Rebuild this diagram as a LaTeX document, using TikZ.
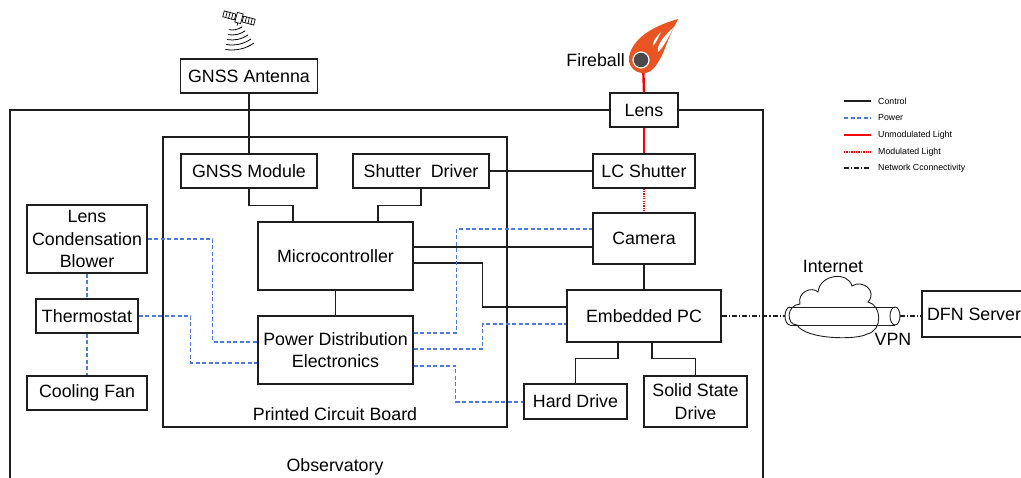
\documentclass[tikz,border=0pt]{standalone}
\usepackage{fontspec}
\setmainfont{Liberation Sans}
\usetikzlibrary{calc}
\definecolor{pwr}{RGB}{77,121,230}
\definecolor{fire}{RGB}{234,84,34}
\definecolor{ball}{RGB}{74,74,74}
\definecolor{ink}{RGB}{30,30,30}
\begin{document}
\begin{tikzpicture}[x=1pt,y=-1pt,
  every node/.style={font=\fontsize{17.8}{22.5}\selectfont},
  box/.style={draw=ink,fill=white,line width=1.1pt,align=center,inner sep=0pt},
  frame/.style={draw=ink,line width=1.1pt},
  ctrl/.style={ink,line width=1.1pt},
  power/.style={pwr,line width=1.1pt,dash pattern=on 4pt off 2.5pt},
  light/.style={red,line width=2.4pt},
  modlight/.style={red,line width=2.4pt,dash pattern=on 1.3pt off 1.1pt},
  net/.style={ink,line width=1.1pt,dash pattern=on 5pt off 2pt on 1.2pt off 2pt},
  lgd/.style={font=\fontsize{8.8}{11}\selectfont,anchor=west,inner sep=0pt}
]
\useasboundingbox (0,0) rectangle (1021,478);

% enclosures
\draw[frame] (10,110) rectangle (763,520);
\draw[frame] (163,137) rectangle (507,427);
\node (pcbl) at (335,414) {Printed Circuit Board};
\node (obsl) at (335,467) {Observatory};

% satellite above the antenna
\begin{scope}[shift={(239,18)},rotate=-15,line width=0.7pt]
  \draw[fill=white] (-16,-3) rectangle (-4,3);
  \draw[fill=white] (4,-3) rectangle (16,3);
  \foreach \u in {-13,-10,-7,7,10,13} \draw (\u,-3) -- (\u,3);
  \draw[fill=white] (-3,-5) rectangle (3,5);
  \draw (0,5) -- (0,8);
\end{scope}
\foreach \r in {18,23,28,33,38}
  \draw[line width=0.8pt] (232,12) ++(55:\r) arc[start angle=55,end angle=100,radius=\r];

% boxes
\node[box,minimum width=137,minimum height=34] (ant) at (249,76) {GNSS Antenna};
\node[box,minimum width=136,minimum height=34] (gmod) at (249,171) {GNSS Module};
\node[box,minimum width=136,minimum height=34] (sdrv) at (421,171) {Shutter\ \ Driver};
\node[box,minimum width=155,minimum height=68] (mcu) at (335.5,256) {Microcontroller};
\node[box,minimum width=155,minimum height=68] (pde) at (335.5,350) {Power Distribution\\Electronics};
\node[box,minimum width=68,minimum height=34] (lens) at (644,110) {Lens};
\node[box,minimum width=102,minimum height=34] (lcs) at (644,171) {LC Shutter};
\node[box,minimum width=102,minimum height=51] (cam) at (644,238.5) {Camera};
\node[box,minimum width=154,minimum height=52] (epc) at (644,316) {Embedded PC};
\node[box,minimum width=103,minimum height=35] (hdd) at (575.5,401.5) {Hard Drive};
\node[box,minimum width=103,minimum height=51] (ssd) at (695.5,401.5) {Solid State\\Drive};
\node[box,minimum width=120,minimum height=68] (blower) at (87,239) {Lens\\Condensation\\Blower};
\node[box,minimum width=102,minimum height=34] (thermo) at (87,316) {Thermostat};
\node[box,minimum width=120,minimum height=34] (fan) at (87,393) {Cooling Fan};
\node[box,minimum width=104,minimum height=46] (dfn) at (974,314) {DFN Server};

% fireball
\coordinate (fb) at (643,61);
\draw[light] (fb) -- (lens.north);
\fill[fire] (678,19) .. controls (657,25) and (633,36) .. (629,57)
  .. controls (627,71) and (645,79) .. (654,68)
  .. controls (662,58) and (664,50) .. (667,43)
  .. controls (670,35) and (674,27) .. (678,19) -- cycle;
\fill[white] (674,27) .. controls (665,35) and (656,45) .. (658,52)
  .. controls (663,48) and (668,38) .. (674,27) -- cycle;
\fill[white] (661,32) .. controls (656,37) and (652,42) .. (653,46)
  .. controls (656,43) and (658,38) .. (661,32) -- cycle;
\draw[white,fill=ball,line width=1.2pt] (641,60) circle[radius=8];
\node[anchor=east,inner sep=0pt] (fbl) at (625,60) {Fireball};

% control
\draw[ctrl] (ant.south) -- (gmod.north);
\draw[ctrl] (gmod.south) -- ++(0,17) -| ([xshift=-42.5pt]mcu.north);
\draw[ctrl] (sdrv.south) -- ++(0,17) -| ([xshift=42.5pt]mcu.north);
\draw[ctrl] (mcu.south) -- (pde.north);
\draw[ctrl] (sdrv.east) -- (lcs.west);
\draw[ctrl] ([yshift=9pt]mcu.east) -- ([yshift=-8.5pt]cam.west);
\draw[ctrl] ([yshift=-7pt]mcu.east) -- ++(69,0) |- ([yshift=9pt]epc.west);
\draw[ctrl] (cam.south) -- (epc.north);
\draw[ctrl] ([xshift=-26pt]epc.south) -- ++(0,16) -| (hdd.north);
\draw[ctrl] ([xshift=8pt]epc.south) -- ++(0,16) -| (ssd.north);

% light path
\draw[light] (lens.south) -- (lcs.north);
\draw[modlight] (lcs.south) -- (cam.north);

% power
\draw[power] (blower.south) -- (thermo.north);
\draw[power] (thermo.south) -- (fan.north);
\draw[power] (blower.east) -- ++(65,0) |- ([yshift=8pt]pde.west);
\draw[power] (thermo.east) -- ++(52,0) |- ([yshift=-13pt]pde.west);
\draw[power] ([yshift=17pt]pde.east) -- ++(43,0) |- ([yshift=9.5pt]cam.west);
\draw[power] ([yshift=1pt]pde.east) -- ++(69,0) |- ([yshift=-8pt]epc.west);
\draw[power] ([yshift=-16pt]pde.east) -- ++(42,0) |- ([yshift=-0.5pt]hdd.west);

% internet cloud and VPN tunnel
\draw[ink,line width=0.9pt] (797,325) .. controls (786,325) and (786,305) .. (800,304)
  .. controls (797,292) and (812,286) .. (818,292)
  .. controls (820,274) and (848,271) .. (852,286)
  .. controls (862,279) and (878,291) .. (868,302)
  .. controls (882,305) and (883,331) .. (867,334)
  .. controls (858,340) and (806,340) .. (797,325) -- cycle;
\coordinate (vpnw) at (785,316);
\coordinate (vpne) at (900,316);
\draw[ink,line width=0.9pt] (790,307) -- (895,307) (790,325) -- (895,325);
\draw[ink,line width=0.9pt] (790,307) arc[start angle=270,end angle=90,x radius=5,y radius=9];
\draw[ink,line width=0.9pt] (895,316) ellipse[x radius=5,y radius=9];
\node (inetl) at (833,266) {Internet};
\node (vpnl) at (893,339) {VPN};
\draw[net] (epc.east) -- (vpnw);
\draw[net] (vpne) -- (vpne -| dfn.west);

% legend
\node[lgd] (lg1) at (878,101) {Control};
\node[lgd] (lg2) at (878,118) {Power};
\node[lgd] (lg3) at (878,135) {Unmodulated Light};
\node[lgd] (lg4) at (878,152) {Modulated Light};
\node[lgd] (lg5) at (878,168) {Network Cconnectivity};
\draw[ctrl] ($(lg1.west)+(-34,0)$) -- ++(27,0);
\draw[power] ($(lg2.west)+(-34,0)$) -- ++(27,0);
\draw[light] ($(lg3.west)+(-34,0)$) -- ++(27,0);
\draw[modlight] ($(lg4.west)+(-34,0)$) -- ++(27,0);
\draw[net] ($(lg5.west)+(-34,0)$) -- ++(27,0);
\end{tikzpicture}
\end{document}
